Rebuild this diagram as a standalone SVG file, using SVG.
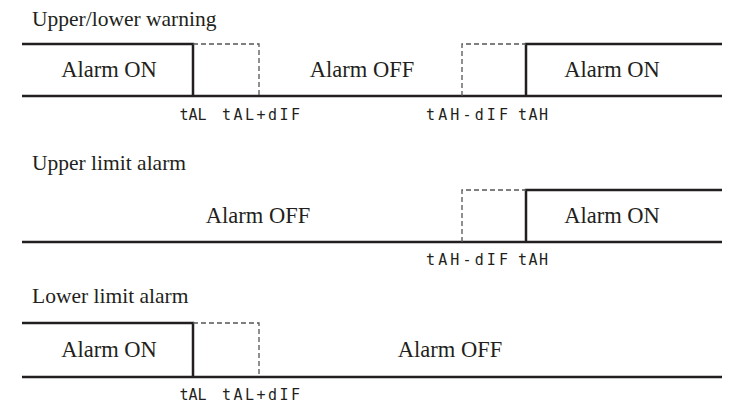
<svg xmlns="http://www.w3.org/2000/svg" width="739" height="408" viewBox="0 0 739 408">
<style>
.t{font-family:"Liberation Serif","Times New Roman",serif;font-size:22.5px;fill:#231f20}
.h{font-size:21.5px}
.m{text-anchor:middle}
.s{fill:none;stroke:#231f20;stroke-width:2.5}
.d{fill:none;stroke:#555;stroke-width:1.3;stroke-dasharray:5 3}
.seg{font-family:"DejaVu Sans Mono",monospace;font-size:15px;fill:#231f20;text-anchor:middle}
</style>
<rect width="739" height="408" fill="#fff"/>
<g id="chart-upper-lower">
<text class="t h" x="32" y="26">Upper/lower warning</text>
<path class="s" d="M22 44H193V96M22 96H722M526 96V44H722"/>
<path class="d" d="M193 44H259V96M462 96V44H526"/>
<text class="t m" x="109" y="77">Alarm ON</text>
<text class="t m" x="362" y="77">Alarm OFF</text>
<text class="t m" x="612" y="77">Alarm ON</text>
<text class="seg" x="193" y="120" textLength="27" lengthAdjust="spacing">tAL</text>
<text class="seg" x="261" y="120" textLength="78" lengthAdjust="spacing">tAL+dIF</text>
<text class="seg" x="467" y="120" textLength="82" lengthAdjust="spacing">tAH-dIF</text>
<text class="seg" x="533" y="120" textLength="30" lengthAdjust="spacing">tAH</text>
</g>
<g id="chart-upper-limit">
<text class="t h" x="32" y="170">Upper limit alarm</text>
<path class="s" d="M22 242H722M526 242V190H722"/>
<path class="d" d="M462 242V190H526"/>
<text class="t m" x="258" y="223">Alarm OFF</text>
<text class="t m" x="612" y="223">Alarm ON</text>
<text class="seg" x="467" y="265" textLength="82" lengthAdjust="spacing">tAH-dIF</text>
<text class="seg" x="533" y="265" textLength="30" lengthAdjust="spacing">tAH</text>
</g>
<g id="chart-lower-limit">
<text class="t h" x="32" y="303">Lower limit alarm</text>
<path class="s" d="M22 323H193V377M22 377H722"/>
<path class="d" d="M193 323H259V377"/>
<text class="t m" x="109" y="357">Alarm ON</text>
<text class="t m" x="450" y="357">Alarm OFF</text>
<text class="seg" x="193" y="400" textLength="27" lengthAdjust="spacing">tAL</text>
<text class="seg" x="261" y="400" textLength="78" lengthAdjust="spacing">tAL+dIF</text>
</g>
</svg>
